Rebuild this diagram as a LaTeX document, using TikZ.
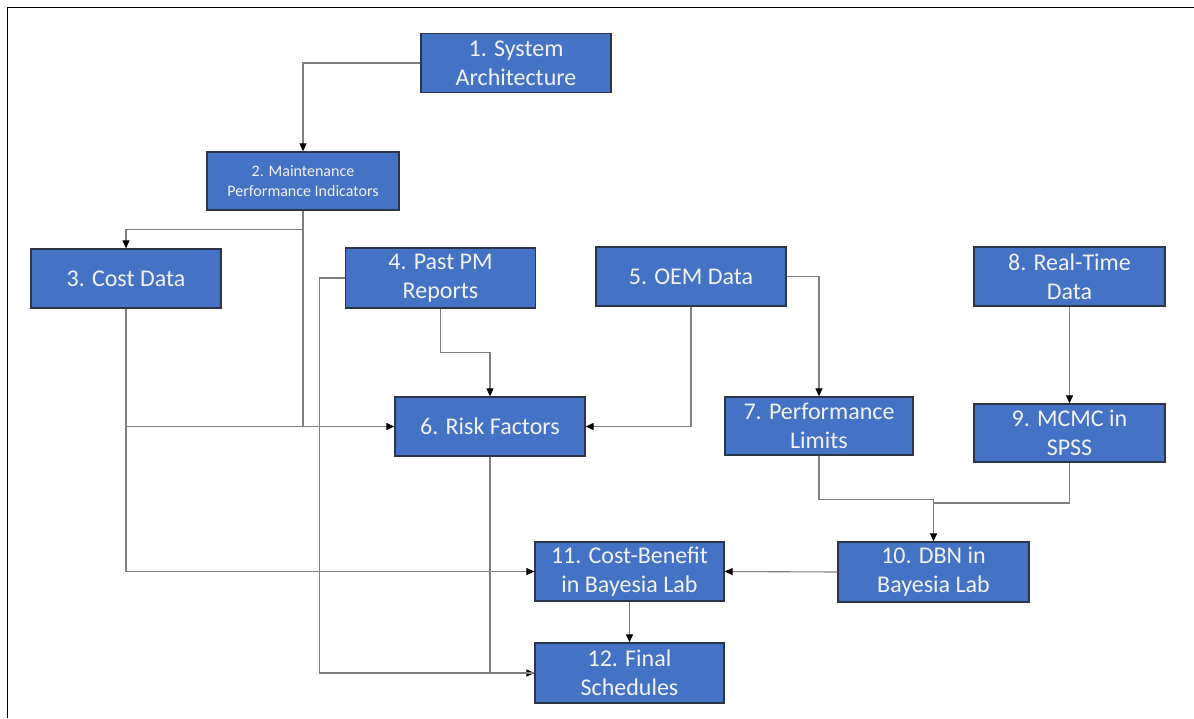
\documentclass[tikz,border=0pt]{standalone}
\usepackage{fontspec}
\setmainfont{Carlito}
\usetikzlibrary{arrows.meta}
\definecolor{boxblue}{HTML}{4472C4}
\definecolor{boxedge}{HTML}{2B3548}
\definecolor{boxtext}{HTML}{F2F2F2}
\definecolor{wire}{HTML}{7F7F7F}
\tikzset{
  stepbox/.style={draw=boxedge, fill=boxblue, text=boxtext, line width=1.3pt,
    minimum width=190pt, minimum height=59pt, inner sep=0pt, align=center,
    font=\fontsize{24}{29}\selectfont},
  smallbox/.style={stepbox, font=\fontsize{16}{19.5}\selectfont},
  wireline/.style={draw=wire, line width=1.1pt},
  conn/.style={wireline, -{Triangle[length=8pt,width=7pt,fill=black,color=black]}},
}
\begin{document}
\begin{tikzpicture}[x=1pt,y=-1pt]
\useasboundingbox (0,0) rectangle (1194,718);
% outer frame (left and top edges)
\draw[black, line width=1.4pt] (7.5,718) -- (7.5,7.5) -- (1194,7.5);

% process steps
\node[stepbox] (n1) at (516,63) {1. System\\Architecture};
\node[smallbox, minimum width=192pt, minimum height=58pt] (n2) at (303,181) {2. Maintenance\\Performance Indicators};
\node[stepbox] (n3) at (126,278.5) {3. Cost Data};
\node[stepbox, minimum height=60pt] (n4) at (440.5,278) {4. Past PM\\Reports};
\node[stepbox] (n5) at (691,276.5) {5. OEM Data};
\node[stepbox] (n6) at (490,426.5) {6. Risk Factors};
\node[stepbox, minimum width=188pt, minimum height=58pt] (n7) at (819,426) {7. Performance\\Limits};
\node[stepbox, minimum width=191pt] (n8) at (1069.5,276.5) {8. Real-Time\\Data};
\node[stepbox, minimum width=191pt, minimum height=58pt] (n9) at (1069.5,433) {9. MCMC in\\SPSS};
\node[stepbox, minimum width=191pt, minimum height=60pt] (n10) at (933.5,572) {10. DBN in\\Bayesia Lab};
\node[stepbox, minimum width=189pt] (n11) at (629.5,571.5) {11. Cost-Benefit\\in Bayesia Lab};
\node[stepbox, minimum width=189pt, minimum height=60pt] (n12) at (629.5,673) {12. Final\\Schedules};

% junction where the MCMC branch meets the DBN feed
\coordinate (j910) at (933.5,503);

% connectors
\draw[conn] (n1.west) -| (n2.north);
\draw[conn] (n2.south) -- ++(0,19) -| (n3.north);
\draw[conn] (n2.south) |- (n6.west);
\draw[wireline] (n3.south) |- (n2.south |- n6.west);
\draw[conn] (n3.south) |- (n11.west);
\draw[conn] (n4.south) -- ++(0,44) -| (n6.north);
\draw[conn] (n4.west) -- ++(-25,0) |- (n12.west);
\draw[wireline] (n6.south) |- (n12.west);
\draw[conn] (n5.south) |- (n6.east);
\draw[conn] (n5.east) -| (n7.north);
\draw[conn] (n8.south) -- (n9.north);
\draw[conn] (n7.south) -- ++(0,44) -| (n10.north);
\draw[wireline] (n9.south) |- (j910);
\draw[conn] (n10.west) -- (n11.east);
\draw[conn] (n11.south) -- (n12.north);
\end{tikzpicture}
\end{document}
